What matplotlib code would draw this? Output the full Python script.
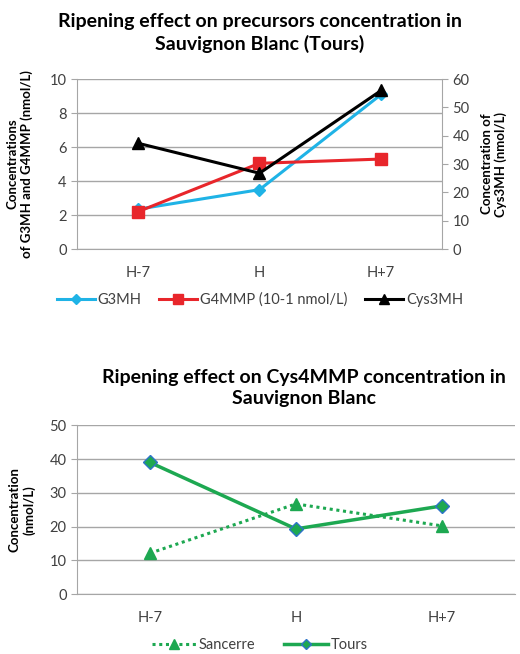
import matplotlib
matplotlib.use("Agg")
import matplotlib.pyplot as plt

plt.rcParams['font.family'] = ['Lato', 'DejaVu Sans']

stages = ['H-7', 'H', 'H+7']

# top chart (Tours)
g3mh = [2.35, 3.5, 9.1]
g4mmp = [2.2, 5.05, 5.3]
cys3mh = [37.4, 26.8, 56.0]

# bottom chart (Cys4MMP)
sancerre = [12.1, 26.7, 20.2]
tours = [39.0, 19.3, 26.1]

blue = '#1FB3E6'
red = '#E8262B'
green = '#1DA851'
grid_c = '#A6A6A6'
tick_c = '#404040'

fig = plt.figure(figsize=(5.2, 6.54), dpi=100)


def style_axis(ax):
    for s in ['top', 'right']:
        ax.spines[s].set_visible(False)
    for s in ['left', 'bottom']:
        ax.spines[s].set_color(grid_c)
    ax.yaxis.grid(True, color=grid_c, linewidth=1)
    ax.set_axisbelow(True)
    ax.tick_params(axis='y', colors=grid_c, labelcolor=tick_c, labelsize=10.5, length=4)
    ax.tick_params(axis='x', length=0, labelcolor=tick_c, labelsize=10.5, pad=12)


# ---- top chart ----
ax1 = fig.add_axes([0.148, 0.619, 0.702, 0.260])
x = range(len(stages))
l1, = ax1.plot(x, g3mh, color=blue, lw=2.2, marker='D', ms=6, label='G3MH')
l2, = ax1.plot(x, g4mmp, color=red, lw=2.2, marker='s', ms=8, label='G4MMP (10-1 nmol/L)')
ax1.set_xlim(-0.5, 2.5)
ax1.set_ylim(0, 10)
ax1.set_yticks(range(0, 11, 2))
ax1.set_xticks(list(x))
ax1.set_xticklabels(stages)
style_axis(ax1)
ax1.set_ylabel('Concentrations\nof G3MH and G4MMP (nmol/L)', fontsize=9.5,
               fontweight='bold', labelpad=12)

ax2 = ax1.twinx()
l3, = ax2.plot(x, cys3mh, color='black', lw=2.2, marker='^', ms=9, label='Cys3MH')
ax2.set_ylim(0, 60)
ax2.set_yticks(range(0, 61, 10))
for s in ['top', 'left', 'bottom']:
    ax2.spines[s].set_visible(False)
ax2.spines['right'].set_color(grid_c)
ax2.tick_params(axis='y', colors=grid_c, labelcolor=tick_c, labelsize=10.5, length=4)
ax2.set_ylabel('Concentration of\nCys3MH (nmol/L)', fontsize=9.5,
               fontweight='bold', labelpad=8)

fig.text(0.5, 1 - 33 / 654, 'Ripening effect on precursors concentration in\nSauvignon Blanc (Tours)',
         ha='center', va='center', fontsize=14, fontweight='bold', linespacing=1.35)

fig.legend([l1, l2, l3], ['G3MH', 'G4MMP (10-1 nmol/L)', 'Cys3MH'],
           loc='center', bbox_to_anchor=(0.5, 1 - 300 / 654), ncol=3, frameon=False,
           fontsize=10.5, handlelength=2.6, columnspacing=1.2, handletextpad=0.2,
           labelcolor=tick_c, markerscale=0.85)

# ---- bottom chart ----
ax3 = fig.add_axes([0.148, 0.0917, 0.842, 0.258])
h1, = ax3.plot(x, sancerre, color=green, lw=2.2, ls=(0, (1, 1.2)), marker='^', ms=9,
               label='Sancerre')
h2, = ax3.plot(x, tours, color=green, lw=2.5, marker='D', ms=7, mec='#2E74C8',
               mew=1, label='Tours')
ax3.set_xlim(-0.5, 2.5)
ax3.set_ylim(0, 50)
ax3.set_yticks(range(0, 51, 10))
ax3.set_xticks(list(x))
ax3.set_xticklabels(stages)
style_axis(ax3)
ax3.set_ylabel('Concentration\n(nmol/L)', fontsize=9.5, fontweight='bold', labelpad=10)

fig.text(0.585, 1 - 388 / 654, 'Ripening effect on Cys4MMP concentration in\nSauvignon Blanc',
         ha='center', va='center', fontsize=14, fontweight='bold', linespacing=1.35)

fig.legend([h1, h2], ['Sancerre', 'Tours'], loc='center',
           bbox_to_anchor=(0.5, 1 - 645 / 654), ncol=2, frameon=False, fontsize=10.5,
           handlelength=3, columnspacing=2, handletextpad=0.2, labelcolor=tick_c,
           markerscale=0.75)

fig.savefig('out.png', dpi=100)
